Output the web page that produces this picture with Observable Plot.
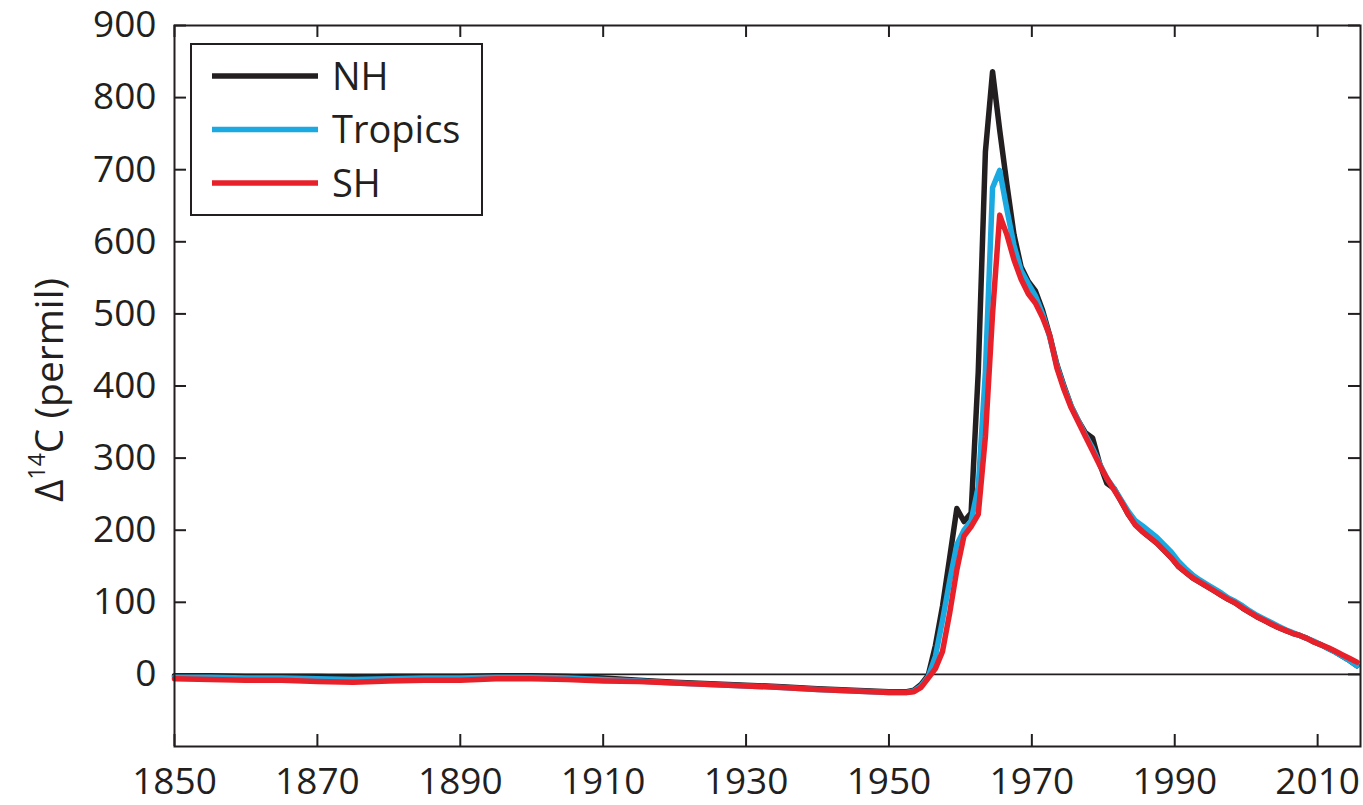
<!DOCTYPE html>
<html>
<head>
<meta charset="utf-8">
<script src="https://cdn.jsdelivr.net/npm/d3@7"></script>
<script src="https://cdn.jsdelivr.net/npm/@observablehq/plot@0.6"></script>
<style>
  body { margin: 0; background: #fff; }
  #chart { position: relative; width: 1363px; height: 805px; }
</style>
</head>
<body>
<div id="chart"></div>
<script>
// Atmospheric radiocarbon (Δ14C, permil) by latitude band, 1850–2015
const years = [
  1850, 1855, 1860, 1865, 1870, 1875, 1880, 1885, 1890, 1895,
  1900, 1905, 1910, 1915, 1920, 1925, 1930, 1935, 1940, 1945, 1950,
  1951.5, 1952.5, 1953.5, 1954.5, 1955.5, 1956.5, 1957.5, 1958.5, 1959.5, 1960.5,
  1961.5, 1962.5, 1963.5, 1964.5, 1965.5, 1966.5, 1967.5, 1968.5, 1969.5, 1970.5,
  1971.5, 1972.5, 1973.5, 1974.5, 1975.5, 1976.5, 1977.5, 1978.5, 1979.5, 1980.5,
  1981.5, 1982.5, 1983.5, 1984.5, 1985.5, 1986.5, 1987.5, 1988.5, 1989.5, 1990.5,
  1991.5, 1992.5, 1993.5, 1994.5, 1995.5, 1996.5, 1997.5, 1998.5, 1999.5, 2000.5,
  2001.5, 2002.5, 2003.5, 2004.5, 2005.5, 2006.5, 2007.5, 2008.5, 2009.5, 2010.5,
  2011.5, 2012.5, 2013.5, 2014.5, 2015.5
];

const nh = [
  -2, -2, -3, -3, -3, -4, -3, -3, -3, -2,
  -2, -3, -5, -8, -11, -13, -15, -17, -20, -22, -24,
  -24, -24, -22, -14, -1, 40, 95, 162, 230, 212,
  224, 420, 725, 836, 755, 680, 610, 565, 545, 532,
  505, 470, 430, 400, 372, 352, 335, 328, 292, 265,
  258, 240, 222, 208, 198, 190, 182, 172, 162, 150,
  142, 134, 128, 122, 116, 110, 104, 99, 92, 86,
  80, 75, 70, 65, 61, 57, 54, 50, 45, 41,
  36, 31, 25, 19, 12
];

const tropics = [
  -4, -4, -5, -5, -6, -7, -6, -5, -5, -4,
  -4, -5, -7, -9, -12, -14, -16, -18, -21, -23, -25,
  -25, -25, -23, -16, -3, 25, 75, 130, 180, 200,
  213, 260, 420, 675, 699, 645, 595, 560, 542, 525,
  500, 468, 428, 398, 372, 352, 332, 314, 292, 272,
  258, 242, 226, 213, 206, 198, 190, 180, 170, 157,
  147, 138, 131, 125, 119, 113, 106, 101, 95, 88,
  82, 77, 72, 67, 62, 58, 54, 50, 46, 41,
  36, 31, 25, 19, 12
];

const sh = [
  -6, -7, -8, -8, -10, -11, -9, -8, -8, -6,
  -6, -7, -9, -10, -12, -14, -16, -18, -21, -23, -25,
  -25, -25, -24, -18, -5, 8, 32, 85, 145, 192,
  205, 222, 330, 500, 637, 610, 575, 548, 528, 515,
  495, 470, 425, 395, 370, 350, 330, 310, 290, 272,
  256, 240, 222, 207, 198, 190, 182, 172, 162, 150,
  142, 134, 128, 122, 116, 110, 104, 99, 92, 86,
  80, 75, 70, 65, 61, 57, 54, 50, 45, 41,
  37, 32, 27, 22, 17
];

const seriesNames = ["NH", "Tropics", "SH"];
const seriesColors = ["#231f20", "#1ba9e1", "#e8202a"];
const xTicks = [1850, 1870, 1890, 1910, 1930, 1950, 1970, 1990, 2010];
const yTicks = [0, 100, 200, 300, 400, 500, 600, 700, 800, 900];

const ink = "#231f20";
const W = 1363, H = 805;
const margin = {top: 25, right: 3, bottom: 59, left: 174};
const innerW = W - margin.left - margin.right;
const innerH = H - margin.top - margin.bottom;
const tickLen = 12;

const seriesValues = [nh, tropics, sh];
const tables = seriesValues.map((vals, i) =>
  vals.map((v, j) => ({series: seriesNames[i], year: years[j], value: v}))
);

const svg = Plot.plot({
  width: W,
  height: H,
  marginTop: margin.top,
  marginRight: margin.right,
  marginBottom: margin.bottom,
  marginLeft: margin.left,
  style: {fontFamily: "'Open Sans', sans-serif", fontSize: "37px", color: ink, background: "#fff", overflow: "visible"},
  x: {domain: [1850, 2016]},
  y: {domain: [-100, 900]},
  marks: [
    Plot.ruleY([0], {stroke: ink, strokeWidth: 1.6}),
    // inward ticks on all four sides of the box
    Plot.tickX(xTicks, {x: d => d, stroke: ink, strokeWidth: 2, insetTop: innerH - tickLen}),
    Plot.tickX(xTicks, {x: d => d, stroke: ink, strokeWidth: 2, insetBottom: innerH - tickLen}),
    Plot.tickY(yTicks, {y: d => d, stroke: ink, strokeWidth: 2, insetRight: innerW - tickLen}),
    Plot.tickY(yTicks, {y: d => d, stroke: ink, strokeWidth: 2, insetLeft: innerW - tickLen}),
    ...tables.map((t, i) => Plot.line(t, {
      x: "year", y: "value", stroke: seriesColors[i], strokeWidth: 5.5,
      strokeLinejoin: "round", strokeLinecap: "round"
    })),
    Plot.frame({stroke: ink, strokeWidth: 2}),
    Plot.axisX(xTicks, {tickSize: 0, tickPadding: 21, label: null, fill: ink, tickFormat: d => String(d)}),
    Plot.axisY(yTicks, {tickSize: 0, tickPadding: 18, label: null, fill: ink, tickFormat: d => String(d)})
  ]
});

document.getElementById("chart").appendChild(svg);

// y-axis title with superscript mass number
const s = d3.select(svg);
const title = s.append("text")
  .attr("transform", `translate(63, 390) rotate(-90)`)
  .attr("text-anchor", "middle")
  .attr("fill", ink)
  .style("font-family", "'Open Sans', sans-serif")
  .style("font-size", "39px");
title.append("tspan").text("Δ");
title.append("tspan").attr("dy", -18).style("font-size", "23px").text("14");
title.append("tspan").attr("dy", 18).text("C (permil)");

// legend box
const lg = s.append("g").attr("transform", "translate(191, 44)");
lg.append("rect")
  .attr("width", 291).attr("height", 171)
  .attr("fill", "#fff").attr("stroke", ink).attr("stroke-width", 2);
seriesNames.forEach((name, i) => {
  const cy = 32 + i * 53.5;
  lg.append("line")
    .attr("x1", 21).attr("x2", 127).attr("y1", cy).attr("y2", cy)
    .attr("stroke", seriesColors[i]).attr("stroke-width", 5.5);
  lg.append("text")
    .attr("x", 141).attr("y", cy).attr("dy", "0.36em")
    .attr("text-anchor", "start")
    .attr("fill", ink)
    .style("font-family", "'Open Sans', sans-serif")
    .style("font-size", "38px")
    .text(name);
});
</script>
</body>
</html>
